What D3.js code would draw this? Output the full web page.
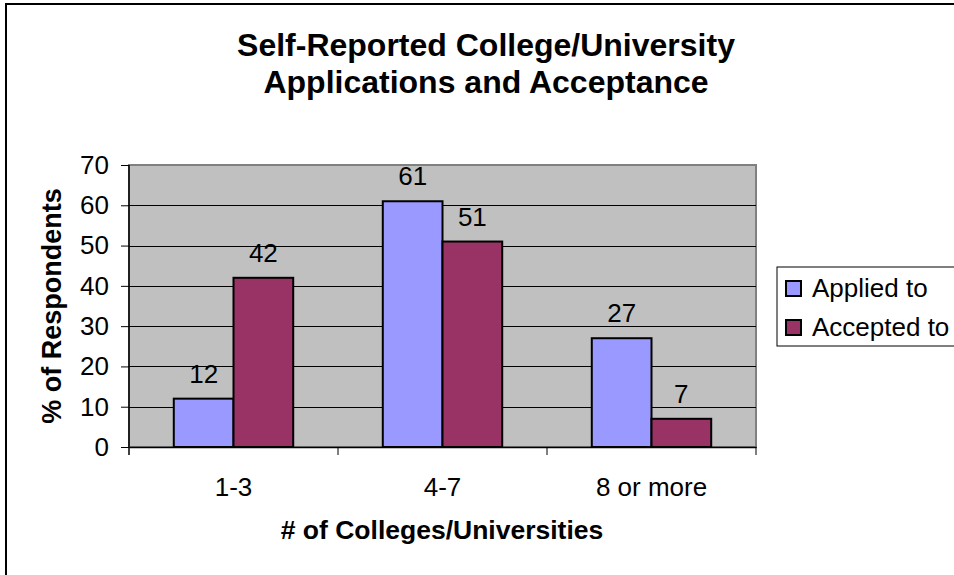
<!DOCTYPE html>
<html>
<head>
<meta charset="utf-8">
<script src="https://cdn.jsdelivr.net/npm/d3@7"></script>
<style>
  html, body { margin: 0; padding: 0; background: #fff; }
  svg { display: block; }
  text { font-family: Arial, "Liberation Sans", sans-serif; fill: #000; }
</style>
</head>
<body>
<svg id="chart" width="954" height="575"></svg>
<script>
const categories = ["1-3", "4-7", "8 or more"];
const seriesNames = ["Applied to", "Accepted to"];
const appliedValues = [12, 61, 27];
const acceptedValues = [42, 51, 7];
const yTicks = [0, 10, 20, 30, 40, 50, 60, 70];
const titleLines = ["Self-Reported College/University", "Applications and Acceptance"];
const xTitle = "# of Colleges/Universities";
const yTitle = "% of Respondents";
const colors = ["#9999FF", "#993366"];

const seriesValues = [appliedValues, acceptedValues];

const svg = d3.select("#chart");
const W = 954, H = 575;
const plot = { left: 129, right: 756, top: 165, bottom: 447 };
const FS = "26px";

// outer chart border (cropped at right/bottom)
svg.append("rect")
  .attr("x", 6).attr("y", 4)
  .attr("width", W + 20).attr("height", H + 20)
  .attr("fill", "#fff").attr("stroke", "#000").attr("stroke-width", 2);

// title
svg.append("g").selectAll("text").data(titleLines).join("text")
  .attr("x", 486).attr("y", (d, i) => 56 + i * 37)
  .attr("text-anchor", "middle")
  .style("font-size", "32px").style("font-weight", "bold")
  .text(d => d);

const x = d3.scaleBand().domain(categories).range([plot.left, plot.right]).padding(0);
const xs = d3.scaleBand().domain(seriesNames).range([0, x.bandwidth()]).paddingInner(0).paddingOuter(0.75);
const y = d3.scaleLinear().domain([0, 70]).range([plot.bottom, plot.top]);

// plot area
svg.append("rect")
  .attr("x", plot.left).attr("y", plot.top)
  .attr("width", plot.right - plot.left).attr("height", plot.bottom - plot.top)
  .attr("fill", "#C0C0C0").attr("stroke", "#808080").attr("stroke-width", 2);

// gridlines
svg.append("g").selectAll("line").data(yTicks.filter(t => t > 0 && t < 70)).join("line")
  .attr("x1", plot.left).attr("x2", plot.right)
  .attr("y1", d => Math.round(y(d)) + 0.5).attr("y2", d => Math.round(y(d)) + 0.5)
  .attr("stroke", "#000").attr("stroke-width", 1);

// bars
const groups = svg.append("g").selectAll("g").data(categories).join("g")
  .attr("transform", d => `translate(${x(d)},0)`);
groups.selectAll("rect")
  .data((c, ci) => seriesNames.map((s, si) => ({ s, si, v: seriesValues[si][ci] })))
  .join("rect")
  .attr("x", d => xs(d.s)).attr("width", xs.bandwidth())
  .attr("y", d => y(d.v)).attr("height", d => y(0) - y(d.v))
  .attr("fill", d => colors[d.si]).attr("stroke", "#000").attr("stroke-width", 2);

// data labels
groups.selectAll("text")
  .data((c, ci) => seriesNames.map((s, si) => ({ s, si, v: seriesValues[si][ci] })))
  .join("text")
  .attr("x", d => xs(d.s) + xs.bandwidth() / 2)
  .attr("y", d => y(d.v) - 16)
  .attr("text-anchor", "middle")
  .style("font-size", FS)
  .text(d => d.v);

// y axis
const yAxis = d3.axisLeft(y).tickValues(yTicks).tickSize(8).tickPadding(12);
const yg = svg.append("g").attr("transform", `translate(${plot.left},0)`).call(yAxis);
yg.select(".domain").attr("stroke", "#000").attr("stroke-width", 1.5).attr("d", `M0,${plot.top}V${plot.bottom + 8}`);
yg.selectAll(".tick line").attr("stroke", "#000");
yg.selectAll(".tick text").style("font-size", FS).style("font-family", "Arial, 'Liberation Sans', sans-serif").attr("fill", "#000");

// x axis
const xAxis = d3.axisBottom(x).tickSize(0).tickPadding(31);
const xg = svg.append("g").attr("transform", `translate(0,${plot.bottom})`).call(xAxis);
xg.select(".domain").attr("stroke", "#000").attr("stroke-width", 1.5);
xg.selectAll(".tick text").style("font-size", FS).style("font-family", "Arial, 'Liberation Sans', sans-serif").attr("fill", "#000");
// category separator ticks
svg.append("g").selectAll("line").data(categories).join("line")
  .attr("x1", d => x(d) + x.bandwidth()).attr("x2", d => x(d) + x.bandwidth())
  .attr("y1", plot.bottom).attr("y2", plot.bottom + 8)
  .attr("stroke", "#000").attr("stroke-width", 1);

// axis titles
svg.append("text")
  .attr("x", 442).attr("y", 539)
  .attr("text-anchor", "middle")
  .style("font-size", "26.5px").style("font-weight", "bold")
  .text(xTitle);
svg.append("text")
  .attr("transform", "translate(61,306) rotate(-90)")
  .attr("text-anchor", "middle")
  .style("font-size", "27px").style("font-weight", "bold")
  .text(yTitle);

// legend
const lg = svg.append("g").attr("transform", "translate(777,267)");
lg.append("rect").attr("width", 190).attr("height", 79)
  .attr("fill", "#fff").attr("stroke", "#000").attr("stroke-width", 1);
const li = lg.selectAll("g").data(seriesNames).join("g")
  .attr("transform", (d, i) => `translate(9,${21 + i * 39})`);
li.append("rect").attr("x", 0).attr("y", -7).attr("width", 15).attr("height", 15)
  .attr("fill", (d, i) => colors[i]).attr("stroke", "#000").attr("stroke-width", 2);
li.append("text").attr("x", 26).attr("y", 0).attr("dy", "0.35em")
  .style("font-size", FS).text(d => d);
</script>
</body>
</html>
